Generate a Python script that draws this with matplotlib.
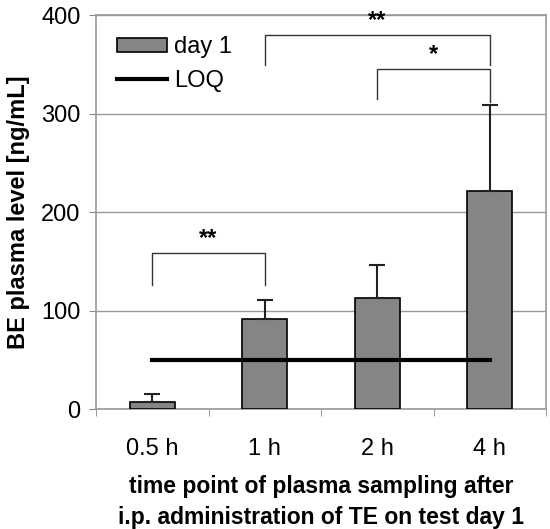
import matplotlib

matplotlib.use('Agg')
import matplotlib.pyplot as plt
import numpy as np

# Data
time_points = ["0.5 h", "1 h", "2 h", "4 h"]
plasma_mean = [7, 91, 113, 221]
plasma_err = [8, 20, 33, 88]
loq_value = 50

# significance brackets: (left bar, right bar, top y, left leg bottom, right leg bottom, label)
brackets = [
    (0, 1, 158, 126, 126, "**"),
    (1, 3, 380, 349, 349, "**"),
    (2, 3, 345, 315, 312, "*"),
]

plt.rcParams['font.family'] = ['Liberation Sans', 'DejaVu Sans']

fig = plt.figure(figsize=(5.5, 5.29), dpi=100)
ax = fig.add_axes([0.1745, 0.2268, 0.8185, 0.7448])

x = np.arange(len(time_points))
bars = ax.bar(x, plasma_mean, width=0.4, color='#858585', edgecolor='black', linewidth=1.2,
              label='day 1', zorder=3)
ax.errorbar(x, plasma_mean, yerr=[np.zeros(len(x)), plasma_err], fmt='none',
            ecolor='#222222', elinewidth=1.5, capsize=6, capthick=1.5, zorder=4)
loq, = ax.plot([x[0], x[-1]], [loq_value, loq_value], color='black', linewidth=3,
               label='LOQ', zorder=5)

for i, j, top, lb, rb, lab in brackets:
    ax.plot([x[i], x[i], x[j], x[j]], [lb, top, top, rb], color='#333333',
            linewidth=1, zorder=4)
    ax.text((x[i] + x[j]) / 2, top + 3, lab, ha='center', va='bottom',
            fontsize=17, fontweight='bold')

ax.set_xlim(-0.5, 3.5)
ax.set_ylim(0, 400)
ax.set_yticks([0, 100, 200, 300, 400])
ax.set_xticks(x)
ax.set_xticklabels(time_points)
ax.set_xticks(np.arange(-0.5, 4, 1), minor=True)
ax.tick_params(axis='x', which='major', length=0, labelsize=17, pad=21)
ax.tick_params(axis='x', which='minor', length=5, color='#888888', direction='out')
ax.tick_params(axis='y', labelsize=17, length=5, color='#888888', direction='out', pad=6)
ax.yaxis.grid(True, color='#999999', linewidth=1, zorder=0)
for s in ax.spines.values():
    s.set_color('#999999')
    s.set_linewidth(1.2)

ax.set_ylabel('BE plasma level [ng/mL]', fontsize=17, fontweight='bold', labelpad=8)
ax.set_xlabel('time point of plasma sampling after\ni.p. administration of TE on test day 1',
              fontsize=16.5, fontweight='bold', labelpad=11, linespacing=1.4)

ax.legend([bars, loq], ['day 1', 'LOQ'], loc='upper left', frameon=False, fontsize=17,
          handlelength=2.1, handleheight=0.55, handletextpad=0.3, labelspacing=0.5,
          borderaxespad=0.5)

fig.savefig('out.png', dpi=100)
plt.close()
